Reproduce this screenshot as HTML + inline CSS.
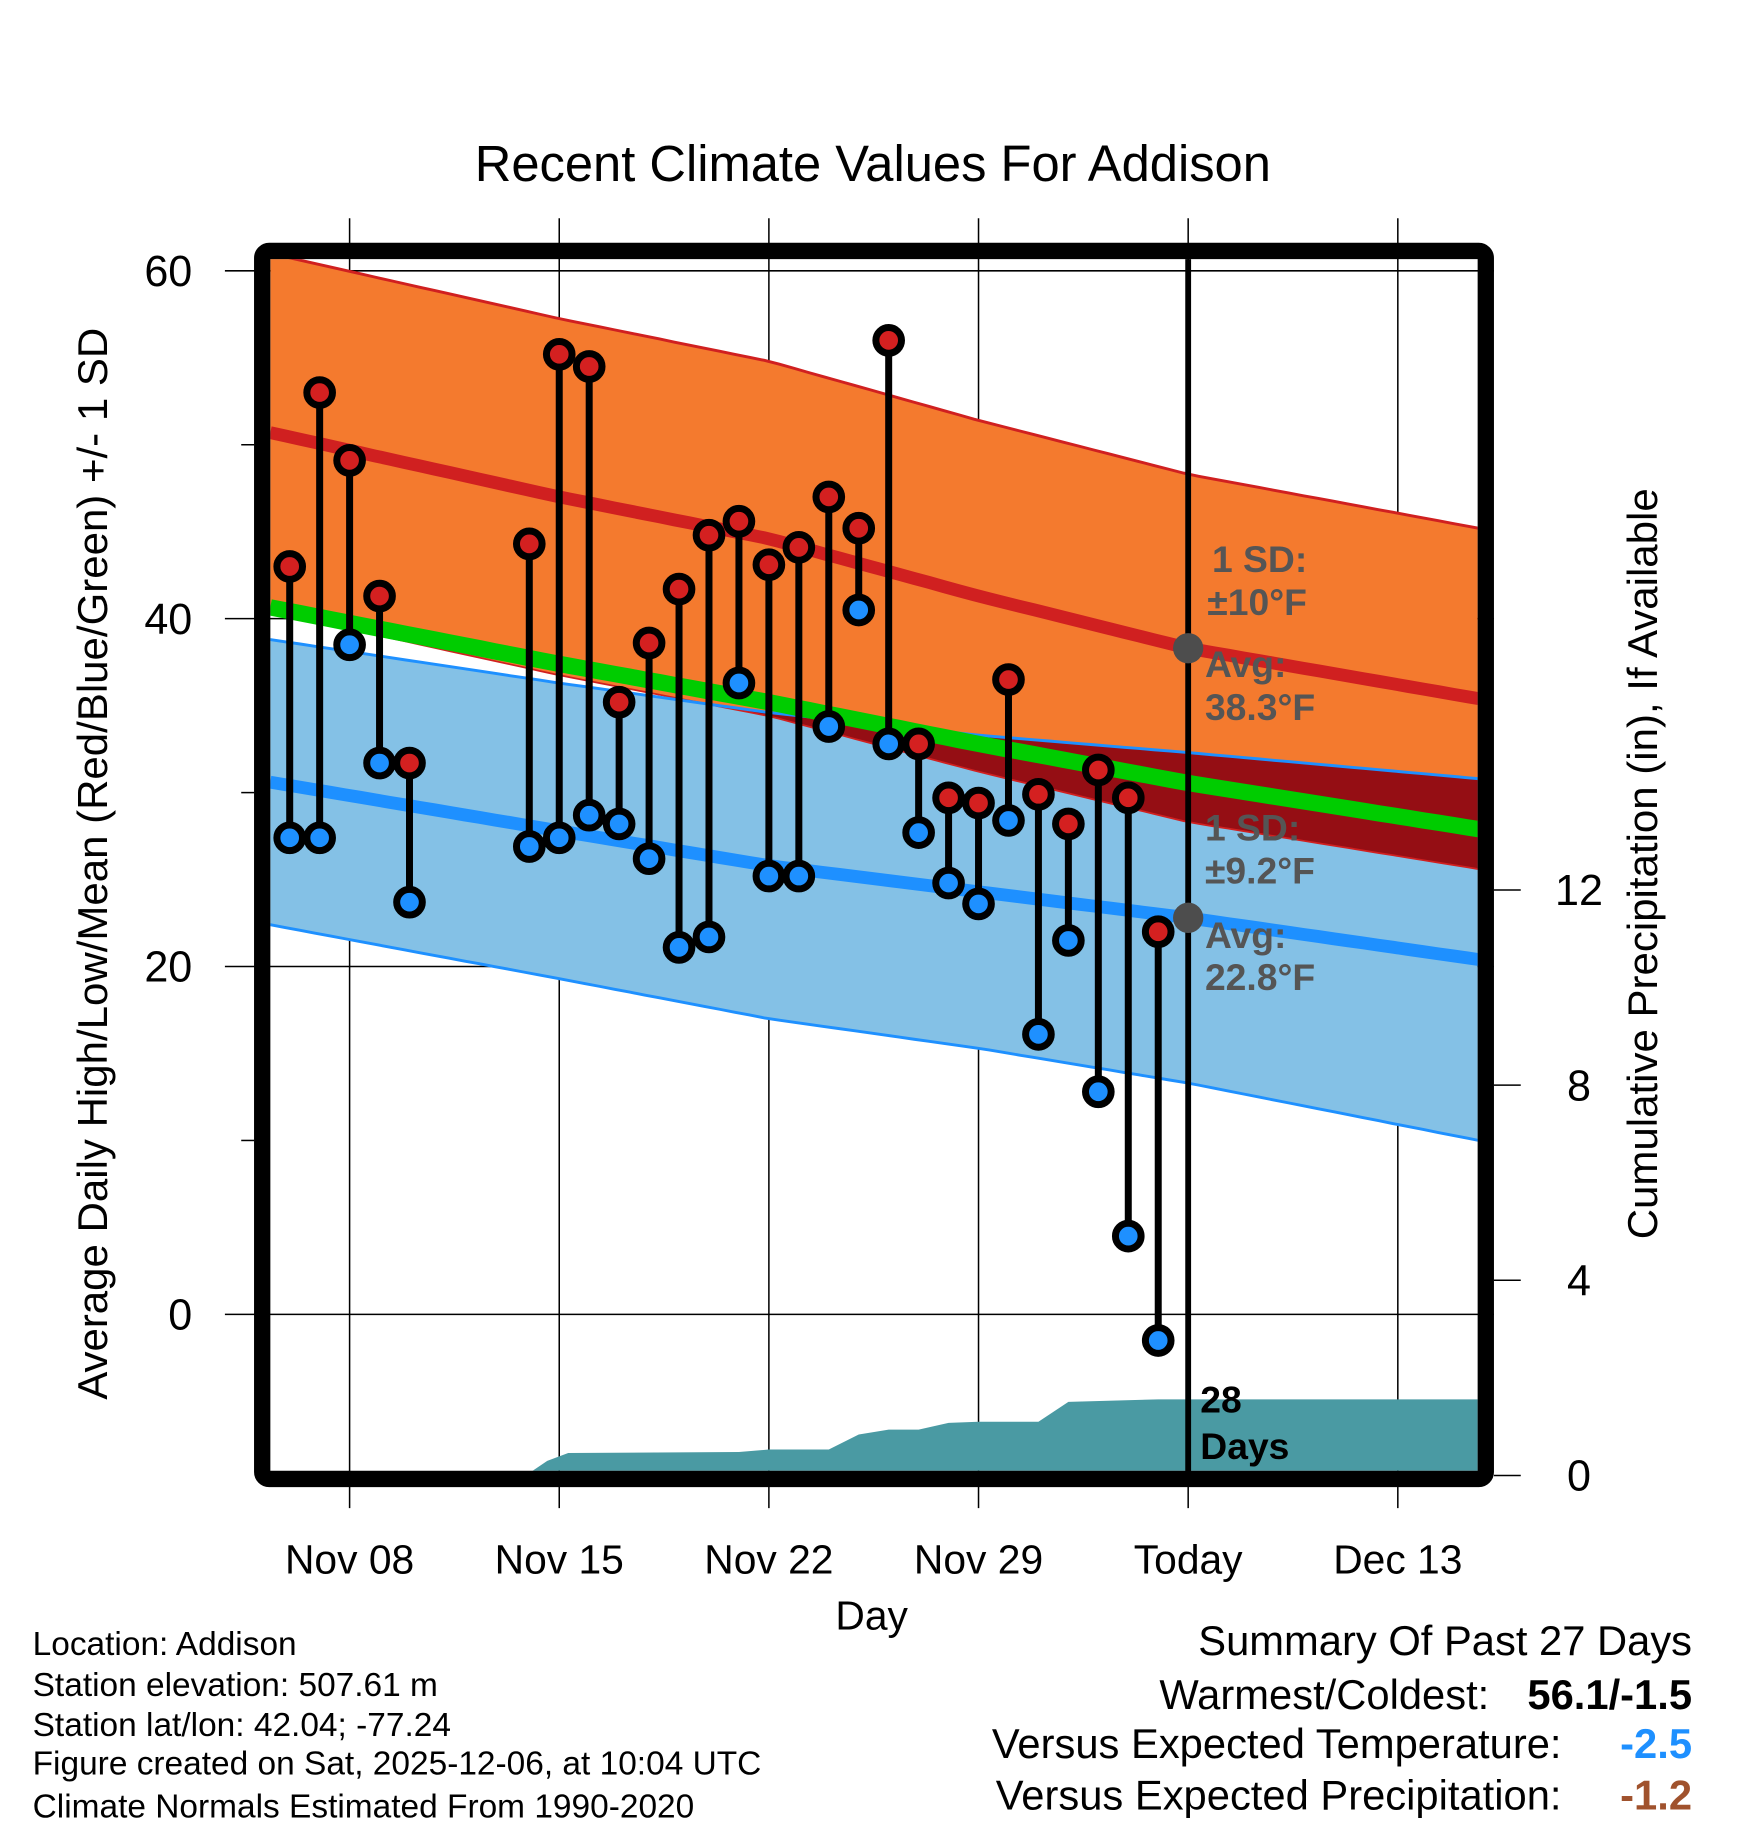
<!DOCTYPE html>
<html><head><meta charset="utf-8">
<style>
html,body{margin:0;padding:0;background:#fff;}
svg{display:block;font-family:"Liberation Sans",Arial,sans-serif;}
</style></head>
<body>
<svg id="chart" width="1748" height="1828" viewBox="0 0 1500 1566" preserveAspectRatio="none" xmlns="http://www.w3.org/2000/svg">
<defs><clipPath id="plotclip"><rect x="232" y="222" width="1036" height="1038"/></clipPath></defs>
<rect width="1500" height="1566" fill="#fff"/>
<text x="749" y="155" font-size="43.5" text-anchor="middle">Recent Climate Values For Addison</text>
<g id="grid"></g>
<g id="bands" clip-path="url(#plotclip)"></g>
<g id="precip" clip-path="url(#plotclip)"></g>
<g id="marks"></g>
<g id="annot"></g>
<rect x="225" y="215" width="1050" height="1052" rx="6" fill="none" stroke="#000" stroke-width="14"/>
<g id="axes"></g>
<text transform="translate(92,740) rotate(-90)" font-size="36" text-anchor="middle">Average Daily High/Low/Mean (Red/Blue/Green) +/- 1 SD</text>
<text transform="translate(1422,740) rotate(-90)" font-size="36" text-anchor="middle">Cumulative Precipitation (in), If Available</text>
<text x="748" y="1396" font-size="35" text-anchor="middle">Day</text>
<g font-size="28.7">
<text x="28" y="1418">Location: Addison</text>
<text x="28" y="1453">Station elevation: 507.61 m</text>
<text x="28" y="1487">Station lat/lon: 42.04; -77.24</text>
<text x="28" y="1520">Figure created on Sat, 2025-12-06, at 10:04 UTC</text>
<text x="28" y="1557">Climate Normals Estimated From 1990-2020</text>
</g>
<g font-size="35.8">
<text x="1452" y="1418" text-anchor="end">Summary Of Past 27 Days</text>
<text x="1278" y="1464" text-anchor="end">Warmest/Coldest:</text>
<text x="1452" y="1464" text-anchor="end" font-weight="bold">56.1/-1.5</text>
<text x="1340" y="1506" text-anchor="end">Versus Expected Temperature:</text>
<text x="1452" y="1506" text-anchor="end" font-weight="bold" fill="#1e90ff">-2.5</text>
<text x="1340" y="1550" text-anchor="end">Versus Expected Precipitation:</text>
<text x="1452" y="1550" text-anchor="end" font-weight="bold" fill="#a0522d">-1.2</text>
</g>
</svg>
<script>
// days relative to Nov 08
const obsDays = [-2,-1,0,1,2,6,7,8,9,10,11,12,13,14,15,16,17,18,19,20,21,22,23,24,25,26,27];
const highs = [43.0,53.0,49.1,41.3,31.7,44.3,55.2,54.5,35.2,38.6,41.7,44.8,45.6,43.1,44.1,47.0,45.2,56.0,32.8,29.7,29.4,36.5,29.9,28.2,31.3,29.7,22.0];
const lows  = [27.4,27.4,38.5,31.7,23.7,26.9,27.4,28.7,28.2,26.2,21.1,21.7,36.3,25.2,25.2,33.8,40.5,32.8,27.7,24.8,23.6,28.4,16.1,21.5,12.8,4.5,-1.5];
const normDays = [-2.65,7,14,21,28,37.7];
const highAvg = [50.7,47.0,44.6,41.3,38.3,35.4];
const highSD = [10.3,10.25,10.2,10.1,10,9.8];
const lowAvg = [30.6,27.8,25.8,24.3,22.8,20.4];
const lowSD = [8.2,8.5,8.8,9.0,9.5,10.4];
const precipDays = [-2.65,1.5,2,6,6.6,7.3,13,14,16,17,18,19,20,21,23,24,27,37.7];
const precipVals = [0,0,0.03,0.05,0.3,0.46,0.48,0.53,0.53,0.84,0.94,0.94,1.08,1.1,1.1,1.51,1.56,1.56];
const tickDays = [0,7,14,21,28,35];
const tickLabels = ["Nov 08","Nov 15","Nov 22","Nov 29","Today","Dec 13"];
const yTicks = [0,20,40,60];
const yMinor = [10,30,50];
const pTicks = [0,4,8,12];

const NS="http://www.w3.org/2000/svg";
const X=d=>300+d*25.7, Y=v=>1126-v*14.9, YP=p=>1264-p*41.8;
function mk(parent,tag,attrs){const e=document.createElementNS(NS,tag);for(const k in attrs)e.setAttribute(k,attrs[k]);document.getElementById(parent).appendChild(e);return e;}
function interp(xs,ys,x){for(let i=0;i<xs.length-1;i++){if(x<=xs[i+1]){const t=(x-xs[i])/(xs[i+1]-xs[i]);return ys[i]+t*(ys[i+1]-ys[i]);}}return ys[ys.length-1];}
const dStart=normDays[0], dEnd=normDays[normDays.length-1];
const samples=[];for(let d=dStart;d<dEnd;d+=0.5)samples.push(d);samples.push(dEnd);
const f=(arr)=>samples.map(d=>interp(normDays,arr,d));
const hA=f(highAvg),hS=f(highSD),lA=f(lowAvg),lS=f(lowSD);
const hP=hA.map((v,i)=>v+hS[i]),hM=hA.map((v,i)=>v-hS[i]),lP=lA.map((v,i)=>v+lS[i]),lM=lA.map((v,i)=>v-lS[i]);
const pts=arr=>samples.map((d,i)=>X(d).toFixed(1)+","+Y(arr[i]).toFixed(1));
function band(top,bot,fill,name){const p=pts(top).concat(pts(bot).reverse()).join(" ");const e=mk('bands','polygon',{points:p,fill:fill});

}
function line(arr,col,w,name){const e=mk('bands','polyline',{points:pts(arr).join(" "),fill:"none",stroke:col,"stroke-width":w});

}
tickDays.forEach(d=>{const e=mk('grid','line',{x1:X(d),x2:X(d),y1:187,y2:1292,stroke:"#000","stroke-width":1.3});

});
yTicks.forEach(v=>{const e=mk('grid','line',{x1:193,x2:1282,y1:Y(v),y2:Y(v),stroke:"#000","stroke-width":1.3});

});
band(hP,hM,"#f47a2e",'high-sd-band');
band(lP,lM,"#84c1e6",'low-sd-band');
band(lP,lP.map((v,i)=>Math.min(v,hM[i])),"#950e14",'overlap-band');
line(hP,"#d02020",2.5,'high-plus-sd-line');
line(hM,"#d02020",1.5,'high-minus-sd-line');
line(lP,"#1e90ff",2.5,'low-plus-sd-line');
line(lM,"#1e90ff",2.5,'low-minus-sd-line');
line(hA,"#d02020",11,'high-avg-line');
line(lA,"#1e90ff",11,'low-avg-line');
line(hA.map((v,i)=>(v+lA[i])/2),"#00cc00",14,'mean-line');
{const pp=precipDays.map((d,i)=>X(d).toFixed(1)+","+YP(precipVals[i]).toFixed(1));
pp.push(X(37.7)+",1270");pp.push(X(-2.65)+",1270");
const e=mk('precip','polygon',{points:pp.join(" "),fill:"#4a9aa3"});

}
{const e=mk('marks','line',{x1:X(28),x2:X(28),y1:222,y2:1262,stroke:"#000","stroke-width":5});

}
obsDays.forEach((d,i)=>{const e=mk('marks','line',{x1:X(d),x2:X(d),y1:Y(highs[i]),y2:Y(lows[i]),stroke:"#000","stroke-width":6});

});
obsDays.forEach((d,i)=>{const a=mk('marks','circle',{cx:X(d),cy:Y(highs[i]),r:11,fill:"#d42020",stroke:"#000","stroke-width":6});


const b=mk('marks','circle',{cx:X(d),cy:Y(lows[i]),r:11,fill:"#1e90ff",stroke:"#000","stroke-width":6});

});
[[38.3,'today-high-avg-dot'],[22.8,'today-low-avg-dot']].forEach(p=>{const e=mk('annot','circle',{cx:X(28),cy:Y(p[0]),r:13,fill:"#4d4d4d"});

});
const ann=[["1 SD:",1040,490,"#555"],["±10°F",1036,527,"#555"],["Avg:",1034,580,"#555"],["38.3°F",1034,617,"#555"],["1 SD:",1034,720,"#555"],["±9.2°F",1034,757,"#555"],["Avg:",1034,812,"#555"],["22.8°F",1034,848,"#555"],["28",1030,1210,"#000"],["Days",1030,1250,"#000"]];
ann.forEach(a=>{const e=mk('annot','text',{x:a[1],y:a[2],fill:a[3],"font-size":32,"font-weight":"bold"});e.textContent=a[0];

});
yTicks.forEach(v=>{const e=mk('axes','text',{x:165,y:Y(v)+13,"font-size":37,"text-anchor":"end"});e.textContent=v;

});
yMinor.forEach(v=>{const e=mk('axes','line',{x1:207,x2:218,y1:Y(v),y2:Y(v),stroke:"#000","stroke-width":1.3});

});
pTicks.forEach(p=>{const t=mk('axes','line',{x1:1282,x2:1305,y1:YP(p),y2:YP(p),stroke:"#000","stroke-width":1.3});


const e=mk('axes','text',{x:1355,y:YP(p)+13,"font-size":37,"text-anchor":"middle"});e.textContent=p;

});
tickDays.forEach((d,i)=>{const e=mk('axes','text',{x:X(d),y:1348,"font-size":35,"text-anchor":"middle"});e.textContent=tickLabels[i];

});
</script>
</body></html>
